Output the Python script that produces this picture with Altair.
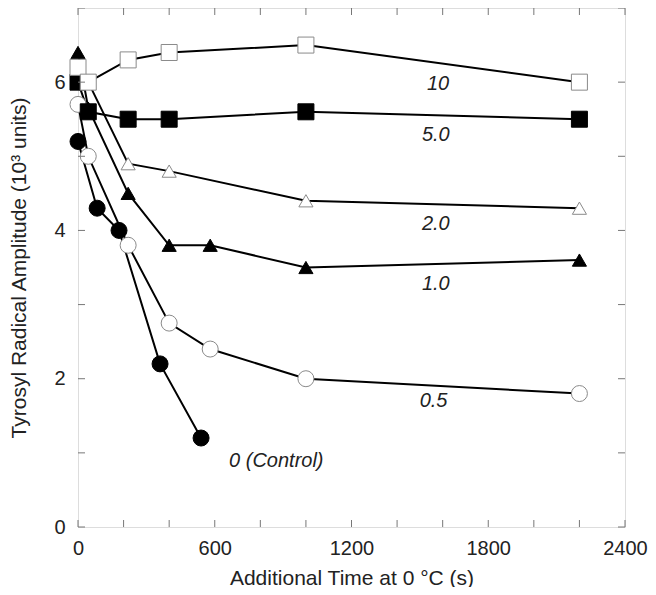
import altair as alt
import pandas as pd

# ---- data ----
t_control = [0, 84, 180, 360, 540]
a_control = [5.2, 4.3, 4.0, 2.2, 1.2]

t_05 = [0, 45, 220, 400, 580, 1000, 2200]
a_05 = [5.7, 5.0, 3.8, 2.75, 2.4, 2.0, 1.8]

t_1 = [0, 45, 220, 400, 580, 1000, 2200]
a_1 = [6.4, 5.65, 4.5, 3.8, 3.8, 3.5, 3.6]

t_2 = [0, 45, 220, 400, 1000, 2200]
a_2 = [6.2, 6.0, 4.9, 4.8, 4.4, 4.3]

t_5 = [0, 45, 220, 400, 1000, 2200]
a_5 = [6.0, 5.6, 5.5, 5.5, 5.6, 5.5]

t_10 = [0, 45, 220, 400, 1000, 2200]
a_10 = [6.2, 6.0, 6.3, 6.4, 6.5, 6.0]

series_names = ["0 (Control)", "0.5", "1.0", "2.0", "5.0", "10"]
series_shapes = ["circle", "circle", "triangle-up", "triangle-up", "square", "square"]
series_filled = [True, False, True, False, True, False]

label_text = ["10", "5.0", "2.0", "1.0", "0.5", "0 (Control)"]
label_x = [1580, 1570, 1570, 1570, 1560, 870]
label_y = [5.98, 5.29, 4.08, 3.28, 1.70, 0.89]

x_ticks = list(range(0, 2401, 200))
y_ticks = list(range(0, 8))

W, H = 547, 519
FONT = "Liberation Sans"

times = [t_control, t_05, t_1, t_2, t_5, t_10]
amps = [a_control, a_05, a_1, a_2, a_5, a_10]

rows = []
for name, ts, as_ in zip(series_names, times, amps):
    for t, a in zip(ts, as_):
        rows.append({"series": name, "time": t, "amp": a})
df = pd.DataFrame(rows)

xscale = alt.Scale(domain=[0, 2400], nice=False, zero=False)
yscale = alt.Scale(domain=[0, 7], nice=False, zero=False)

xaxis = alt.Axis(values=[0, 600, 1200, 1800, 2400], format="d", grid=False, domain=False,
                 ticks=False, tickSize=0, labelFontSize=20, labelFont=FONT,
                 labelColor="#222", labelPadding=11, labelFlush=False,
                 title="Additional Time at 0 °C (s)", titleFontSize=21,
                 titleFont=FONT, titleFontWeight="normal", titleColor="#222",
                 titlePadding=9)
yaxis = alt.Axis(values=[0, 2, 4, 6], format="d", grid=False, domain=False, ticks=False,
                 tickSize=0, labelFontSize=20, labelFont=FONT, labelColor="#222",
                 labelPadding=13, labelFlush=False,
                 title="Tyrosyl Radical Amplitude (10³ units)", titleFontSize=21,
                 titleFont=FONT, titleFontWeight="normal", titleColor="#222",
                 titlePadding=24)

base = alt.Chart(df)

lines = base.mark_line(color="black", strokeWidth=2).encode(
    x=alt.X("time:Q", scale=xscale, axis=xaxis),
    y=alt.Y("amp:Q", scale=yscale, axis=yaxis),
    detail="series:N",
)

layers = [lines]
for name, shape, filled in zip(series_names, series_shapes, series_filled):
    size = 200 if shape == "triangle-up" else 256
    if filled:
        mk = alt.Chart(df[df.series == name]).mark_point(
            shape=shape, filled=True, fill="black", stroke="black",
            strokeWidth=1, size=size, opacity=1)
    else:
        mk = alt.Chart(df[df.series == name]).mark_point(
            shape=shape, filled=True, fill="white", stroke="#8a8a8a",
            strokeWidth=1, size=size, opacity=1, fillOpacity=1)
    layers.append(mk.encode(x=alt.X("time:Q", scale=xscale),
                            y=alt.Y("amp:Q", scale=yscale)))

labels_df = pd.DataFrame({"text": label_text, "x": label_x, "y": label_y})
labels = alt.Chart(labels_df).mark_text(
    fontSize=20, font=FONT, fontStyle="italic", color="#222",
    align="center", baseline="middle").encode(
    x=alt.X("x:Q", scale=xscale), y=alt.Y("y:Q", scale=yscale), text="text:N")
layers.append(labels)

xt = pd.DataFrame({"v": x_ticks})
yt = pd.DataFrame({"v": y_ticks})
tick_color = "#777"
layers.append(alt.Chart(xt).mark_tick(size=7, thickness=1, color=tick_color, opacity=1).encode(
    x=alt.X("v:Q", scale=xscale), y=alt.value(H - 3.5)))
layers.append(alt.Chart(xt).mark_tick(size=7, thickness=1, color=tick_color, opacity=1).encode(
    x=alt.X("v:Q", scale=xscale), y=alt.value(3.5)))
layers.append(alt.Chart(yt).mark_tick(size=7, thickness=1, color=tick_color, opacity=1).encode(
    y=alt.Y("v:Q", scale=yscale), x=alt.value(3.5)))
layers.append(alt.Chart(yt).mark_tick(size=7, thickness=1, color=tick_color, opacity=1).encode(
    y=alt.Y("v:Q", scale=yscale), x=alt.value(W - 3.5)))

chart = alt.layer(*layers).properties(
    width=W, height=H,
    autosize=alt.AutoSizeParams(type="none"),
    padding={"left": 70, "top": 0, "right": 23, "bottom": 60},
).configure_view(stroke="#777", strokeWidth=1.5).configure(background="white")

chart.save("out.html", embed_options={"renderer": "svg", "actions": False})
